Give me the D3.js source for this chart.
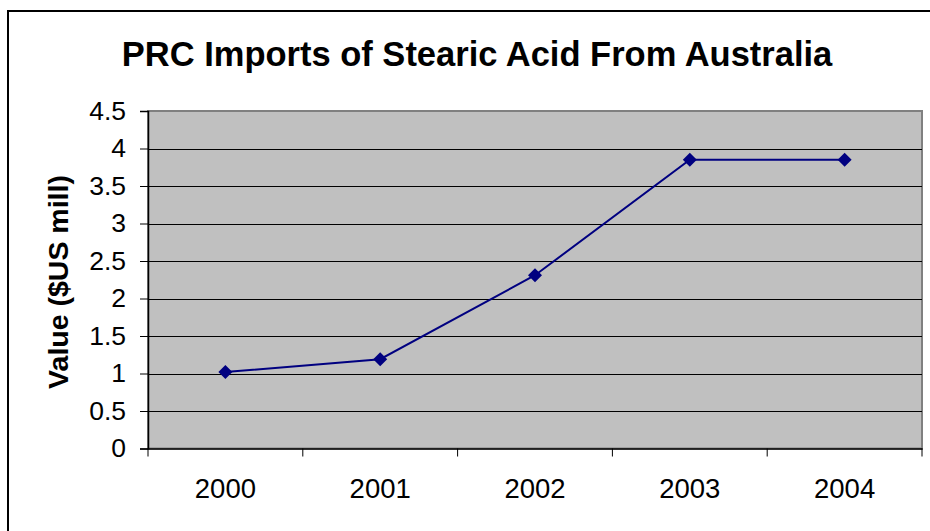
<!DOCTYPE html>
<html>
<head>
<meta charset="utf-8">
<script src="https://cdn.jsdelivr.net/npm/d3@7"></script>
<style>
  html, body { margin: 0; padding: 0; background: #fff; }
  svg { display: block; font-family: "Liberation Sans", Arial, sans-serif; }
</style>
</head>
<body>
<svg id="chart" width="930" height="531"></svg>
<script>
// Stearic acid imports from Australia, $US million
const years = ["2000", "2001", "2002", "2003", "2004"];
const values = [1.02, 1.19, 2.31, 3.85, 3.85];
const yTicks = [0, 0.5, 1, 1.5, 2, 2.5, 3, 3.5, 4, 4.5];

const svg = d3.select("#chart");
const plot = { left: 148, top: 111, right: 922, bottom: 448.5 };
const labelFont = "'Liberation Sans', Arial, sans-serif";

// chart frame
svg.append("rect")
  .attr("x", 8).attr("y", 11)
  .attr("width", 940).attr("height", 540)
  .attr("fill", "#fff").attr("stroke", "#000").attr("stroke-width", 2);

const x = d3.scaleBand().domain(years).range([plot.left, plot.right]);
const y = d3.scaleLinear().domain([0, 4.5]).range([plot.bottom, plot.top]);

// plot area
svg.append("rect")
  .attr("x", plot.left).attr("y", plot.top)
  .attr("width", plot.right - plot.left).attr("height", plot.bottom - plot.top)
  .attr("fill", "#c0c0c0").attr("stroke", "#808080").attr("stroke-width", 2);

// gridlines
svg.append("g").selectAll("line")
  .data(yTicks.filter(d => d > 0 && d < 4.5))
  .join("line")
  .attr("x1", plot.left).attr("x2", plot.right)
  .attr("y1", d => Math.round(y(d)) + 0.5).attr("y2", d => Math.round(y(d)) + 0.5)
  .attr("stroke", "#000").attr("stroke-width", 1);

// y axis
const yAxis = svg.append("g")
  .attr("transform", `translate(${plot.left},0)`)
  .call(d3.axisLeft(y).tickValues(yTicks).tickSize(8).tickPadding(14).tickFormat(d3.format("")));
yAxis.select(".domain").attr("stroke", "#000").attr("stroke-width", 1.5);
yAxis.selectAll(".tick line").attr("stroke", "#000");
yAxis.selectAll("text").attr("font-size", 26.5).attr("fill", "#000")
  .attr("font-family", labelFont);

// x axis with ticks between categories
const xAxis = svg.append("g")
  .attr("transform", `translate(0,${plot.bottom})`)
  .call(d3.axisBottom(x).tickSize(0).tickPadding(30));
xAxis.select(".domain").attr("stroke", "#000").attr("stroke-width", 1.5);
xAxis.selectAll("text").attr("font-size", 27.5).attr("fill", "#000")
  .attr("font-family", labelFont);
svg.append("g").selectAll("line")
  .data(years.map(d => x(d)).concat([plot.right]))
  .join("line")
  .attr("x1", d => d).attr("x2", d => d)
  .attr("y1", plot.bottom).attr("y2", plot.bottom + 8)
  .attr("stroke", "#000").attr("stroke-width", 1);

// series line
const cx = d => x(d) + x.bandwidth() / 2;
svg.append("path")
  .datum(values)
  .attr("fill", "none")
  .attr("stroke", "#000080")
  .attr("stroke-width", 2)
  .attr("d", d3.line().x((d, i) => cx(years[i])).y(d => y(d)));

// diamond markers
svg.append("g").selectAll("path")
  .data(values)
  .join("path")
  .attr("transform", (d, i) => `translate(${cx(years[i])},${y(d)})`)
  .attr("d", "M0,-7L7,0L0,7L-7,0Z")
  .attr("fill", "#000080");

// title
svg.append("text")
  .attr("x", 477).attr("y", 66)
  .attr("text-anchor", "middle")
  .attr("font-size", 34.5).attr("font-weight", "bold")
  .text("PRC Imports of Stearic Acid From Australia");

// y axis title
svg.append("text")
  .attr("transform", "translate(68,282) rotate(-90)")
  .attr("text-anchor", "middle")
  .attr("font-size", 28.5).attr("font-weight", "bold")
  .text("Value ($US mill)");
</script>
</body>
</html>
